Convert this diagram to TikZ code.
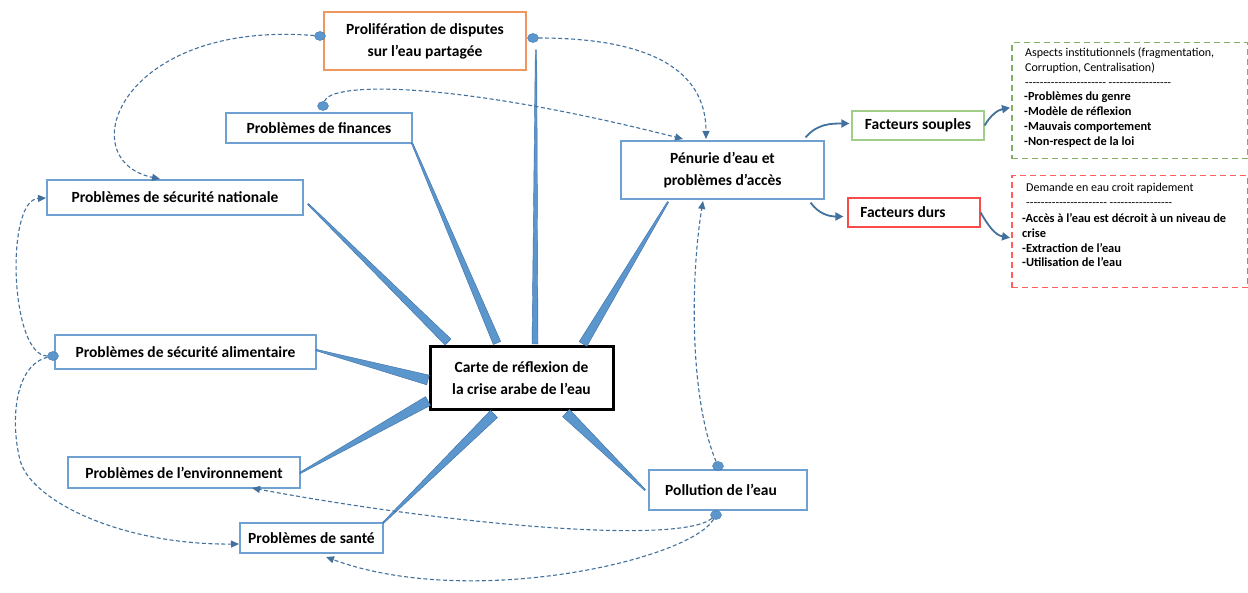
\documentclass[tikz,border=0pt]{standalone}
\usepackage{fontspec}
\setmainfont{Carlito}
\usetikzlibrary{calc,arrows.meta,shapes.geometric}

\definecolor{boxblue}{RGB}{110,160,210}
\definecolor{linkblue}{RGB}{65,113,156}
\definecolor{spokefill}{RGB}{91,150,205}
\definecolor{spokeedge}{RGB}{60,110,165}
\definecolor{orangeedge}{RGB}{240,150,95}
\definecolor{greenedge}{RGB}{160,205,135}
\definecolor{greendash}{RGB}{130,175,100}
\definecolor{rededge}{RGB}{250,75,75}
\definecolor{reddash}{RGB}{255,95,95}

% a run of plain hyphens (boxed so that no dash ligature forms)
\newcommand{\hy}{\mbox{-}}
\newcommand{\hyfive}{\hy\hy\hy\hy\hy}
\newcommand{\hyphrow}{\hyfive\hyfive\hyfive\hyfive\hy\hy\ \hyfive\hyfive\hyfive\hy\hy}

% tapered spoke: thin end #1, wide end #2, half width #3
\newcommand{\spokewedge}[3]{%
  \filldraw[spoke] ($(#1)!0.7pt!90:(#2)$) -- ($(#2)!#3!-90:(#1)$)
     -- ($(#2)!#3!90:(#1)$) -- ($(#1)!0.7pt!-90:(#2)$) -- cycle;}

\begin{document}
\begin{tikzpicture}[x=1pt,y=-1pt,
  topic/.style={draw=boxblue, line width=1.2pt, fill=white,
    font=\fontsize{15.5}{22}\selectfont\bfseries, align=center, inner sep=0pt},
  detailbox/.style={line width=1.5pt, dash pattern=on 6pt off 4pt,
    anchor=north west, minimum width=236pt, inner sep=0pt},
  detailhead/.style={anchor=north west, align=left, inner sep=0pt,
    font=\fontsize{12}{14.8}\selectfont},
  detaillist/.style={anchor=north west, align=left, inner sep=0pt,
    font=\fontsize{12.4}{14.9}\selectfont\bfseries},
  spoke/.style={fill=spokefill, draw=spokeedge, line width=0.4pt, line join=round},
  link/.style={draw=linkblue, line width=1.1pt, dash pattern=on 4pt off 2.5pt,
    -{Triangle[length=8pt,width=7pt]}},
  flow/.style={draw=linkblue, line width=1.8pt,
    -{Triangle[length=8pt,width=8pt]}},
  dot/.style={ellipse, fill=spokefill, draw=spokeedge, line width=0.4pt,
    minimum width=11pt, minimum height=9pt, inner sep=0pt}
]
\fill[white] (0,0) rectangle (1248,593);
\useasboundingbox (0,0) rectangle (1248,593);

% topic boxes
\node[topic, draw=orangeedge, minimum width=202pt, minimum height=58pt] (prolif) at (425,41) {Prolifération de disputes\\sur l’eau partagée};
\node[topic, minimum width=186pt, minimum height=30pt] (fin) at (319,128) {Problèmes de finances};
\node[topic, minimum width=256pt, minimum height=35pt] (secnat) at (175,197.5) {Problèmes de sécurité nationale};
\node[topic, minimum width=203pt, minimum height=58pt] (penurie) at (722.5,170) {Pénurie d’eau et\\problèmes d’accès};
\node[topic, draw=greenedge, minimum width=132pt, minimum height=29pt] (souples) at (918,125.5) {Facteurs souples};
\node[topic, draw=rededge, minimum width=132pt, minimum height=29pt] (durs) at (914,212.5) {Facteurs durs\hspace*{22pt}};
\node[topic, minimum width=261pt, minimum height=34pt] (alim) at (185.5,352) {Problèmes de sécurité alimentaire};
\node[topic, draw=black, line width=3pt, minimum width=183pt, minimum height=63pt] (carte) at (521.5,378.5) {Carte de réflexion de\\la crise arabe de l’eau};
\node[topic, minimum width=232pt, minimum height=31pt] (env) at (184,472.5) {Problèmes de l’environnement};
\node[topic, minimum width=143pt, minimum height=30pt] (sante) at (311.5,538) {Problèmes de santé};
\node[topic, minimum width=158pt, minimum height=40pt] (pollution) at (728,490) {Pollution de l’eau\hspace*{14pt}};

% detail boxes
\node[detailbox, draw=greendash, minimum height=116pt] (aspects) at (1011,42) {};
\node[detailhead] (aspectshead) at (1025,48) {Aspects institutionnels (fragmentation,\\Corruption, Centralisation)\\\hyphrow};
\node[detaillist] (aspectslist) at (1024,92) {-Problèmes du genre\\-Modèle de réflexion\\-Mauvais comportement\\-Non-respect de la loi};
\node[detailbox, draw=reddash, minimum height=112pt] (demande) at (1011,175) {};
\node[detailhead] (demandehead) at (1026,183) {Demande en eau croit rapidement\\\hyphrow};
\node[detaillist] (demandelist) at (1022,213) {-Accès à l’eau est décroit à un niveau de\\crise\\-Extraction de l’eau\\-Utilisation de l’eau};

% spokes from the central map
\coordinate (a1) at (308,204);  \coordinate (b1) at (448,342);
\coordinate (a2) at (412,143);  \coordinate (b2) at (497,343);
\coordinate (a3) at (536,50);   \coordinate (b3) at (535,344);
\coordinate (a4) at (668,202);  \coordinate (b4) at (583,344);
\coordinate (a5) at (316,350);  \coordinate (b5) at (428,380);
\coordinate (a6) at (300,473);  \coordinate (b6) at (428,401);
\coordinate (a7) at (383,523);  \coordinate (b7) at (494,414);
\coordinate (a8) at (645,490);  \coordinate (b8) at (566,413);
\spokewedge{a1}{b1}{4.2pt}
\spokewedge{a2}{b2}{4pt}
\spokewedge{a3}{b3}{3pt}
\spokewedge{a4}{b4}{4.5pt}
\spokewedge{a5}{b5}{5pt}
\spokewedge{a6}{b6}{5pt}
\spokewedge{a7}{b7}{5pt}
\spokewedge{a8}{b8}{5pt}

% solid arrows to the factor boxes
\coordinate (f1) at ($(penurie.north east)+(-19,-3)$);
\coordinate (f2) at ($(penurie.south east)+(-14,3)$);
\coordinate (g1) at ($(aspects.west)+(-1,7)$);
\coordinate (g2) at ($(demande.west)+(-1,6)$);
\draw[flow] (f1) to[out=50,in=180] ($(souples.west)+(-2,-2)$);
\draw[flow] (f2) to[out=-55,in=180] ($(durs.west)+(-4,4)$);
\draw[flow] (souples.east) to[out=60,in=190] (g1);
\draw[flow] (durs.east) to[out=-60,in=170] (g2);

% dashed relations
\node[dot] (d1) at (320,36) {};
\node[dot] (d2) at (533,38) {};
\node[dot] (d3) at (323,106) {};
\node[dot] (d4) at (53,356) {};
\node[dot] (d5) at (718,466) {};
\node[dot] (d6) at (716,515) {};
\coordinate (t1) at (160,179);
\coordinate (t2) at (706,139);
\coordinate (t3) at (683,139);
\coordinate (t4) at (46,198);
\coordinate (t5) at (239,544);
\coordinate (t6) at (703,201);
\coordinate (t7) at (252,488);
\coordinate (t8) at (326,557);
\draw[link] (d1) .. controls (120,20) and (70,160) .. (t1);
\draw[link] (d2) .. controls (650,38) and (706,70) .. (t2);
\draw[link] (d3) .. controls (330,82) and (450,80) .. (t3);
\draw[link] (d4) .. controls (10,356) and (5,200) .. (t4);
\draw[link] (d4) .. controls (15,365) and (10,420) .. (20,460) .. controls (30,500) and (120,545) .. (t5);
\draw[link] (d5) .. controls (690,400) and (690,280) .. (t6);
\draw[link] (d6) .. controls (680,545) and (450,525) .. (t7);
\draw[link] (d6) .. controls (690,560) and (470,610) .. (t8);
\end{tikzpicture}
\end{document}
